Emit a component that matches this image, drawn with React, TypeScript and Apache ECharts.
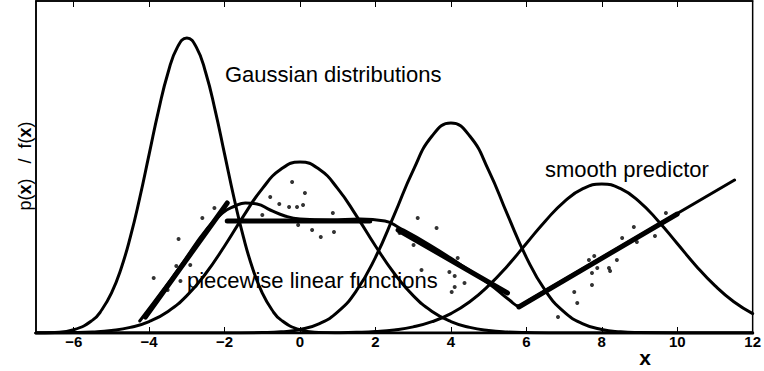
import React, { useEffect, useRef } from "react";
import * as echarts from "echarts";

// ---- data (x in axis units, y in plot-height units above the axis) ----
const tickValues = [-6, -4, -2, 0, 2, 4, 6, 8, 10, 12];

const gaussAX = [-7, -6.5, -6, -5.5, -5.25, -5, -4.75, -4.5, -4.25, -4, -3.75, -3.5, -3.25, -3, -2.75, -2.5, -2.25, -2, -1.75, -1.5, -1.25, -1, -0.75, -0.5, 0, 0.5, 1, 2, 3, 12];
const gaussAY = [0.1, 0.6, 3.3, 12.9, 23.5, 39.9, 63.8, 95.8, 135.0, 178.9, 222.7, 260.3, 285.9, 295, 285.9, 260.3, 222.7, 178.9, 135.0, 95.8, 63.8, 39.9, 23.5, 12.9, 3.3, 0.6, 0.1, 0, 0, 0];

const gaussBX = [-7, -6, -5.5, -5, -4.5, -4, -3.5, -3, -2.5, -2, -1.5, -1, -0.5, 0, 0.5, 1, 1.5, 2, 2.5, 3, 3.5, 4, 4.5, 5, 5.5, 6, 7, 8, 12];
const gaussBY = [0, 0.4, 1.0, 2.5, 5.6, 11.4, 21.6, 37.4, 59.5, 87.0, 116.9, 144.4, 163.9, 171, 163.9, 144.4, 116.9, 87.0, 59.5, 37.4, 21.6, 11.4, 5.6, 2.5, 1.0, 0.4, 0, 0, 0];

const gaussCX = [-7, -3, -2, -1, -0.5, 0, 0.5, 1, 1.5, 2, 2.5, 3, 3.5, 4, 4.5, 5, 5.5, 6, 6.5, 7, 7.5, 8, 8.5, 9, 10, 11, 12];
const gaussCY = [0, 0, 0, 0.4, 1.2, 3.5, 9.2, 21.1, 42.6, 75.7, 118.3, 162.7, 197.0, 210, 197.0, 162.7, 118.3, 75.7, 42.6, 21.1, 9.2, 3.5, 1.2, 0.4, 0, 0, 0];

const gaussDX = [-7, -1, 0, 1, 1.5, 2, 2.5, 3, 3.5, 4, 4.5, 5, 5.5, 6, 6.5, 7, 7.5, 8, 8.5, 9, 9.5, 10, 10.5, 11, 11.5, 12];
const gaussDY = [0, 0, 0, 0.3, 0.7, 1.5, 3.1, 6.1, 11.3, 19.4, 31.2, 47.3, 67.1, 89.5, 111.8, 131.2, 144.3, 149, 144.3, 131.2, 111.8, 89.5, 67.1, 47.3, 31.2, 19.4];

const smoothX = [-4.25, -3.57, -3.04, -2.51, -2.06, -1.72, -1.45, -1.14, -0.79, -0.4, 0, 0.79, 1.59, 2.25, 2.64, 3.44, 4.23, 5.02, 5.55, 5.81, 6.08, 11.52];
const smoothY = [12, 46, 74, 102, 120, 127, 130, 129, 123, 117, 114, 113, 114, 112, 105, 88, 69, 49, 33, 27, 33, 153];

const piece1 = [[-4.1, 16], [-1.93, 130]];
const piece2 = [[-1.93, 112], [1.85, 112]];
const piece3 = [[2.6, 103], [5.5, 40]];
const piece4 = [[5.8, 26], [10.0, 119]];

const scatterX = [-3.88, -3.51, -3.28, -3.22, -3.17, -2.91, -2.59, -2.27, -1.0, -0.79, -0.55, -0.29, -0.21, -0.08, 0.08, 0.13, -0.05, 0.32, 0.55, 0.87, 0.9, 2.64, 3.01, 3.12, 3.62, 3.22, 3.96, 4.1, 4.18, 4.36, 4.1, 4.02, 6.84, 7.27, 7.35, 7.66, 7.74, 7.74, 7.8, 7.88, 8.19, 8.22, 8.4, 8.54, 8.85, 8.93, 9.41, 9.7];
const scatterY = [55, 43, 67, 94, 52, 68, 115, 125, 118, 136, 129, 126, 151, 126, 128, 140, 108, 103, 96, 120, 101, 100, 88, 115, 105, 63, 61, 57, 75, 50, 46, 41, 16, 41, 30, 73, 60, 48, 77, 65, 65, 62, 73, 95, 106, 91, 97, 120];

const annotations = [
  { text: "Gaussian distributions", x: 225, y: 74 },
  { text: "smooth predictor", x: 545, y: 169 },
  { text: "piecewise linear functions", x: 187, y: 280 },
];

const FONT = "'Liberation Sans', Arial, Helvetica, sans-serif";

const zip = (xs: number[], ys: number[]) => xs.map((x, i) => [x, ys[i]]);

export default function App() {
  const ref = useRef<HTMLDivElement>(null);
  useEffect(() => {
    if (!ref.current) return;
    const chart = echarts.init(ref.current, undefined, { renderer: "svg" });
    const curve = (data: number[][], width: number) => ({
      type: "line",
      data,
      smooth: true,
      showSymbol: false,
      symbol: "none",
      lineStyle: { color: "#000", width, cap: "round", join: "round" },
      z: 3,
    });
    const piece = (data: number[][]) => ({
      type: "line",
      data,
      showSymbol: false,
      symbol: "none",
      lineStyle: { color: "#000", width: 5, cap: "round" },
      z: 4,
    });
    chart.setOption({
      animation: false,
      backgroundColor: "#fff",
      grid: {
        left: 36,
        right: 9,
        top: 1,
        bottom: 38,
        show: true,
        borderColor: "#000",
        borderWidth: 1.5,
        backgroundColor: "transparent",
      },
      xAxis: [
        {
          type: "value",
          min: -7,
          max: 12,
          axisLine: { show: true, onZero: false, lineStyle: { color: "#000", width: 2 } },
          axisTick: {
            show: true,
            inside: true,
            length: 6,
            customValues: tickValues,
            lineStyle: { color: "#000", width: 1 },
          },
          axisLabel: {
            customValues: tickValues,
            color: "#000",
            fontSize: 15,
            fontWeight: "bold",
            fontFamily: FONT,
            margin: 1,
            formatter: (v: number) => (v < 0 ? "\u2212" + Math.abs(v) : String(v)),
          },
          splitLine: { show: false },
        },
        {
          type: "value",
          position: "top",
          min: -7,
          max: 12,
          axisLine: { show: true, onZero: false, lineStyle: { color: "#000", width: 1.5 } },
          axisTick: {
            show: true,
            inside: true,
            length: 6,
            customValues: tickValues,
            lineStyle: { color: "#000", width: 1 },
          },
          axisLabel: { show: false },
          splitLine: { show: false },
        },
      ],
      yAxis: {
        type: "value",
        min: 0,
        max: 332,
        axisLine: { show: true, onZero: false, lineStyle: { color: "#000", width: 1.5 } },
        axisTick: { show: false },
        axisLabel: { show: false },
        splitLine: { show: false },
      },
      series: [
        curve(zip(gaussAX, gaussAY), 3),
        curve(zip(gaussBX, gaussBY), 3),
        curve(zip(gaussCX, gaussCY), 3),
        curve(zip(gaussDX, gaussDY), 3),
        curve(zip(smoothX, smoothY), 3),
        piece(piece1),
        piece(piece2),
        piece(piece3),
        piece(piece4),
        {
          type: "scatter",
          data: zip(scatterX, scatterY),
          symbol: "circle",
          symbolSize: 4,
          itemStyle: { color: "#000" },
          z: 5,
        },
      ],
      graphic: [
        ...annotations.map((a) => ({
          type: "text",
          x: a.x,
          y: a.y,
          z: 10,
          style: {
            text: a.text,
            fill: "#000",
            fontSize: 22,
            fontFamily: FONT,
            align: "left",
            verticalAlign: "middle",
            textAlign: "left",
            textVerticalAlign: "middle",
          },
        })),
        {
          type: "text",
          x: 645,
          y: 357,
          z: 10,
          style: {
            text: "x",
            fill: "#000",
            fontSize: 21,
            fontWeight: "bold",
            fontFamily: FONT,
            align: "center",
            verticalAlign: "middle",
            textAlign: "center",
            textVerticalAlign: "middle",
          },
        },
        {
          type: "text",
          x: 25,
          y: 166,
          rotation: Math.PI / 2,
          z: 10,
          style: {
            text: "p({b|x})   /  f({b|x})",
            fill: "#000",
            fontSize: 18,
            fontFamily: FONT,
            align: "center",
            verticalAlign: "middle",
            textAlign: "center",
            textVerticalAlign: "middle",
            rich: {
              b: { fontSize: 18, fontWeight: "bold", fontFamily: FONT, fill: "#000" },
            },
          },
        },
      ],
    });
    return () => chart.dispose();
  }, []);
  return <div ref={ref} style={{ width: 764, height: 371, position: "absolute", left: 0, top: 0 }} />;
}
